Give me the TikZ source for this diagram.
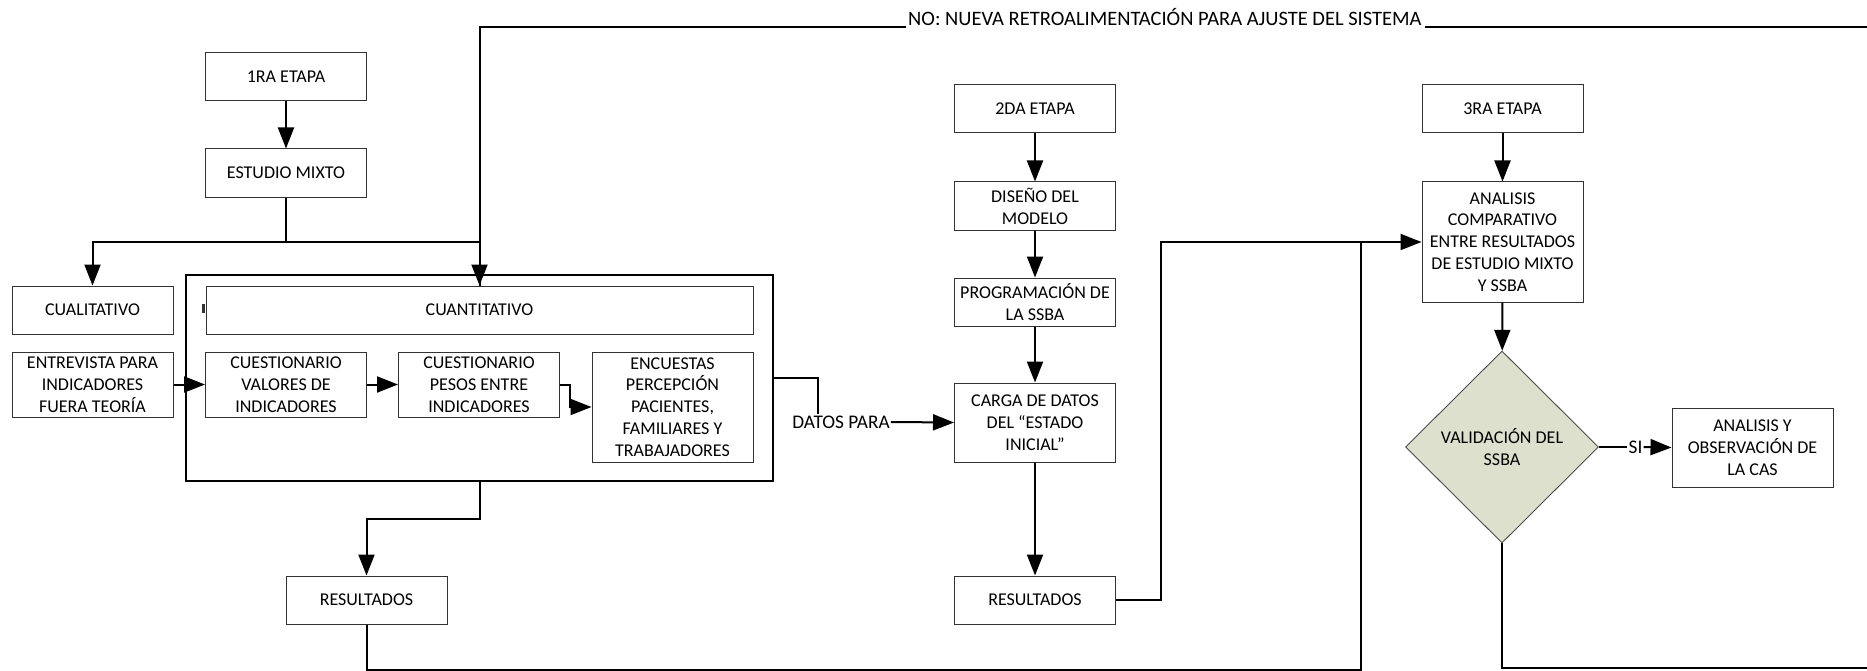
\documentclass[tikz,border=0pt]{standalone}
\usepackage{fontspec}
\setmainfont{Carlito}
\usetikzlibrary{arrows.meta,shapes.geometric}
\definecolor{verdeval}{RGB}{221,224,204}

\tikzset{
  texto/.style={font=\fontsize{18}{21.8}\selectfont},
  rotulo/.style={font=\fontsize{19.3}{23}\selectfont, inner sep=1pt},
  caja/.style={texto, draw=black!80, line width=1pt, minimum width=161pt, minimum height=48pt, align=center, inner sep=1pt},
  linea/.style={line width=2pt},
  flecha/.style={linea, -{Triangle[length=21pt,width=16pt]}},
}

\begin{document}
\begin{tikzpicture}[x=1pt,y=-1pt]
    \useasboundingbox (0,0) rectangle (1867,671);

    % 1ra etapa
    \node[draw, line width=2pt, minimum width=587pt, minimum height=206pt, inner sep=0pt] (marco) at (479.5,378) {};
    \node[caja] (etapa1) at (286,76.5) {1RA ETAPA};
    \node[caja] (mixto) at (286,173) {ESTUDIO MIXTO};
    \node[caja] (cuali) at (92.5,310) {CUALITATIVO};
    \node[caja, minimum width=547pt] (cuanti) at (479.5,310) {CUANTITATIVO};
    \node[caja, minimum height=65pt] (entrevista) at (92.5,384.5) {ENTREVISTA PARA\\INDICADORES\\FUERA TEORÍA};
    \node[caja, minimum height=65pt] (valores) at (286,384.5) {CUESTIONARIO\\VALORES DE\\INDICADORES};
    \node[caja, minimum height=65pt] (pesos) at (479,384.5) {CUESTIONARIO\\PESOS ENTRE\\INDICADORES};
    \node[caja, minimum height=110pt] (encuestas) at (672.5,407) {ENCUESTAS\\PERCEPCIÓN\\PACIENTES,\\FAMILIARES Y\\TRABAJADORES};
    \node[caja] (res1) at (366.5,600) {RESULTADOS};
    \fill[black!80] (202,304) rectangle (205,313);

    % 2da etapa
    \node[caja] (etapa2) at (1035,108.5) {2DA ETAPA};
    \node[caja] (diseno) at (1035,206) {DISEÑO DEL\\MODELO};
    \node[caja] (program) at (1035,302) {PROGRAMACIÓN DE\\LA SSBA};
    \node[caja, minimum height=79pt] (carga) at (1035,422.5) {CARGA DE DATOS\\DEL “ESTADO\\INICIAL”};
    \node[caja] (res2) at (1035,600) {RESULTADOS};
    \node[rotulo] (datos) at (841,422) {DATOS PARA};

    % 3ra etapa
    \node[caja] (etapa3) at (1502.5,108.5) {3RA ETAPA};
    \node[caja, minimum height=120pt] (comparativo) at (1502.5,242) {ANALISIS\\COMPARATIVO\\ENTRE RESULTADOS\\DE ESTUDIO MIXTO\\Y SSBA};
    \node[diamond, draw=black!70, line width=0.9pt, fill=verdeval, texto, align=center, minimum width=193pt, minimum height=192pt, inner sep=0pt] (valida) at (1502,447) {VALIDACIÓN DEL\\SSBA};
    \node[caja, minimum height=79pt] (observa) at (1752.5,447.5) {ANALISIS Y\\OBSERVACIÓN DE\\LA CAS};
    \node[rotulo] (si) at (1635.5,447) {SI};

    \node[font=\fontsize{20.5}{24}\selectfont, inner sep=0pt, anchor=west] (ajuste) at (908,17) {NO: NUEVA RETROALIMENTACIÓN PARA AJUSTE DEL SISTEMA};
    \coordinate (retroI) at (906,27);
    \coordinate (retroD) at (1425,27);
    \coordinate (bordeA) at (1867,27);
    \coordinate (bordeB) at (1867,668);
    \coordinate (cruce) at (1361,242);

    \foreach \a/\b in {etapa1/mixto, etapa2/diseno, diseno/program, program/carga, carga/res2, etapa3/comparativo, comparativo/valida, entrevista/valores, valores/pesos} {
        \draw[flecha] (\a) -- (\b);
    }
    \draw[flecha] (mixto.south) -- ++(0,44) -| (cuali.north);
    \draw[linea] (mixto.south) -- ++(0,44) -| (cuanti.north);
    \draw[flecha] (retroI) -| (cuanti.north);
    \draw[linea] (retroD) -- (bordeA);
    \draw[flecha] (pesos.east) -- ++(10,0) |- (encuestas.west);
    \draw[flecha] (marco.south) -- ++(0,37) -| (res1.north);
    \draw[linea] (marco.east) -| ([xshift=-23pt]datos.north);
    \draw[flecha] (datos.east) -- (carga.west);
    \draw[flecha] (res2.east) -- ++(45,0) |- (comparativo.west);
    \draw[linea] (res1.south) -- ++(0,45) -| (cruce);
    \draw[linea] (valida.east) -- (si.west);
    \draw[flecha] (si.east) -- (observa.west);
    \draw[linea] (valida.south) |- (bordeB);
\end{tikzpicture}
\end{document}
